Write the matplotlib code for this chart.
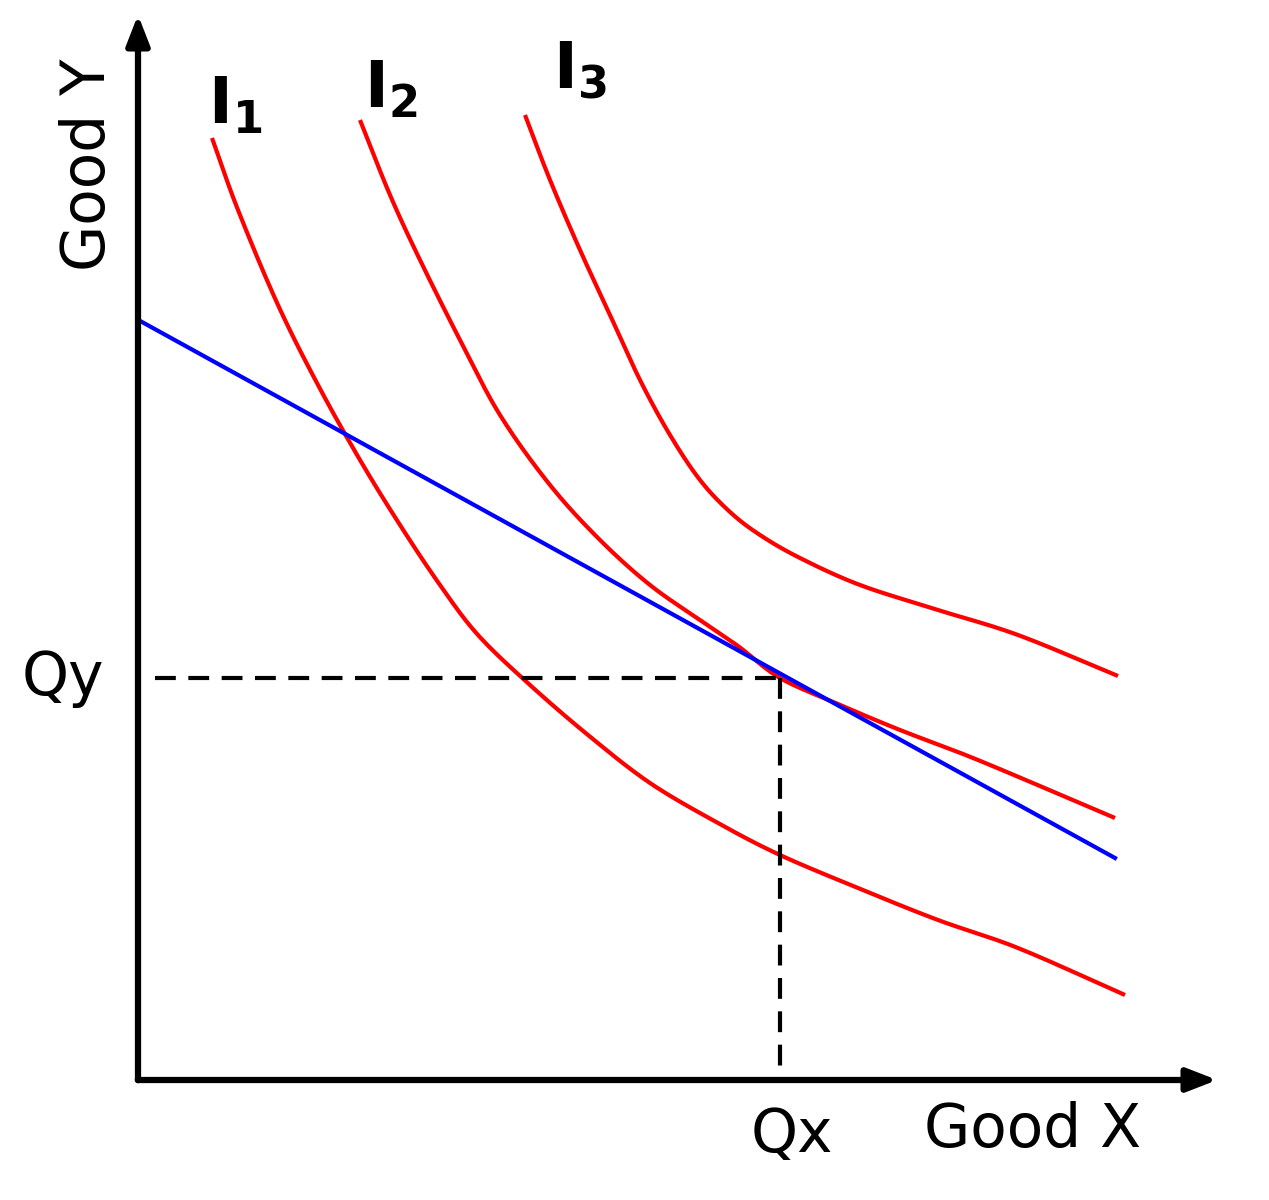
import numpy as np
import matplotlib.pyplot as plt

# coordinates measured from the axis corner (x right, y up), in picture pixels
i1_x = [74, 100, 140, 180, 222, 262, 302, 340, 392, 450, 512, 580, 642, 720, 800, 880, 987]
i1_y = [942, 870, 775, 695, 620, 555, 495, 445, 395, 345, 297, 257, 225, 192, 160, 132, 85]
i2_x = [222, 252, 282, 322, 362, 412, 462, 512, 562, 600, 642, 700, 762, 840, 977]
i2_y = [960, 885, 820, 740, 665, 595, 540, 495, 460, 434, 402, 376, 350, 320, 262]
i3_x = [387, 412, 442, 472, 502, 532, 562, 592, 622, 662, 722, 800, 880, 980]
i3_y = [965, 900, 830, 765, 700, 645, 600, 568, 545, 522, 495, 470, 445, 404]
budget_x = [4, 977]
budget_y = [758, 222]
q_x, q_y = 642, 402


def smooth(xs, ys, n=20):
    # Catmull-Rom through the read points, only to draw a smooth stroke
    p = np.column_stack([xs, ys]).astype(float)
    p = np.vstack([2 * p[0] - p[1], p, 2 * p[-1] - p[-2]])
    t = np.linspace(0, 1, n, endpoint=False)[:, None]
    out = []
    for i in range(1, len(p) - 2):
        p0, p1, p2, p3 = p[i - 1], p[i], p[i + 1], p[i + 2]
        out.append(0.5 * (2 * p1 + (-p0 + p2) * t + (2 * p0 - 5 * p1 + 4 * p2 - p3) * t ** 2
                          + (-p0 + 3 * p1 - 3 * p2 + p3) * t ** 3))
    out.append(p[-2][None, :])
    out = np.vstack(out)
    return out[:, 0], out[:, 1]


fig = plt.figure(figsize=(12.69, 12), dpi=100)
ax = fig.add_axes([0, 0, 1, 1])
ax.set_xlim(-138, 1131)
ax.set_ylim(-120, 1080)
ax.axis('off')

for xs, ys in [(i1_x, i1_y), (i2_x, i2_y), (i3_x, i3_y)]:
    sx, sy = smooth(xs, ys)
    ax.plot(sx, sy, color='red', lw=3, solid_capstyle='butt')
ax.plot(budget_x, budget_y, color='blue', lw=3)
ax.plot([17, q_x], [q_y, q_y], color='black', lw=3, ls=(0, (5, 3)))
ax.plot([q_x, q_x], [q_y, 5], color='black', lw=3, ls=(0, (5, 3)))

ax.annotate('', xy=(1082, 0), xytext=(-3, 0),
            arrowprops=dict(arrowstyle='-|>,head_length=1.8,head_width=0.7', lw=4.5, color='black'))
ax.annotate('', xy=(0, 1068), xytext=(0, -3),
            arrowprops=dict(arrowstyle='-|>,head_length=1.8,head_width=0.7', lw=4.5, color='black'))

fs = 43
ax.text(-50, 915, 'Good Y', rotation=90, ha='center', va='center', fontsize=fs)
ax.text(895, -50, 'Good X', ha='center', va='center', fontsize=fs)
ax.text(-75, q_y, 'Qy', ha='center', va='center', fontsize=fs)
ax.text(q_x + 12, -55, 'Qx', ha='center', va='center', fontsize=fs)
ax.text(97, 975, r'$\mathbf{I_1}$', ha='center', va='center', fontsize=46)
ax.text(253, 990, r'$\mathbf{I_2}$', ha='center', va='center', fontsize=46)
ax.text(442, 1010, r'$\mathbf{I_3}$', ha='center', va='center', fontsize=46)

fig.savefig('out.png', dpi=100)
